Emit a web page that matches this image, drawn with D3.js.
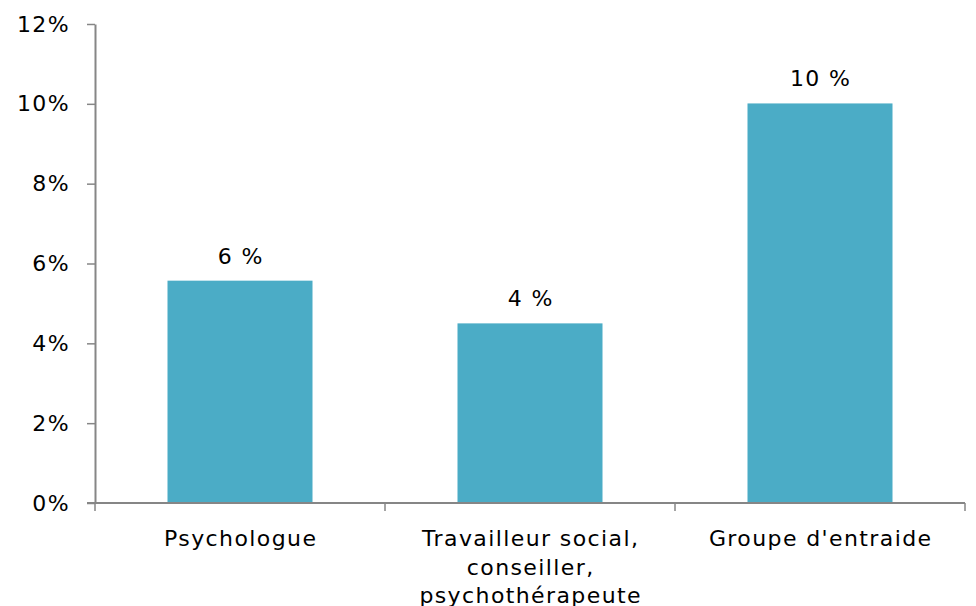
<!DOCTYPE html>
<html>
<head>
<meta charset="utf-8">
<script src="https://cdn.jsdelivr.net/npm/d3@7"></script>
<style>
  html, body { margin: 0; padding: 0; background: #fff; }
  svg { display: block; }
  text { font-family: "DejaVu Sans", Verdana, sans-serif; fill: #000; }
</style>
</head>
<body>
<svg id="chart" width="976" height="606"></svg>
<script>
const categories = ["Psychologue", "Travailleur social, conseiller, psychothérapeute", "Groupe d'entraide"];
const categoryLines = [["Psychologue"], ["Travailleur social,", "conseiller,", "psychothérapeute"], ["Groupe d'entraide"]];
const values = [5.57, 4.5, 10.01];
const valueLabels = ["6 %", "4 %", "10 %"];
const yTicks = [0, 2, 4, 6, 8, 10, 12];

(function () {
const svg = d3.select("#chart");
const mLeft = 95, mRight = 965, mTop = 24, mBottom = 503;

const x = d3.scaleBand().domain(categories).range([mLeft, mRight]).paddingInner(0.5).paddingOuter(0.25);
const y = d3.scaleLinear().domain([0, 12]).range([mBottom, mTop]);

const axisColor = "#868686";
const fs = 22;
const ls = 1.4;

// Y axis
const yAxis = svg.append("g").attr("transform", `translate(${mLeft},0)`)
  .call(d3.axisLeft(y).tickValues(yTicks).tickFormat(d => d + "%").tickSizeInner(8).tickSizeOuter(0).tickPadding(17));
yAxis.select(".domain").attr("stroke", axisColor).attr("stroke-width", 2);
yAxis.selectAll(".tick line").attr("stroke", axisColor).attr("stroke-width", 1.5);
yAxis.selectAll(".tick text").attr("font-size", fs).attr("letter-spacing", ls)
  .attr("font-family", '"DejaVu Sans", Verdana, sans-serif').attr("fill", "#000");

// Bars
svg.append("g").selectAll("rect").data(categories).join("rect")
  .attr("x", d => x(d))
  .attr("width", x.bandwidth())
  .attr("y", (d, i) => y(values[i]))
  .attr("height", (d, i) => y(0) - y(values[i]))
  .attr("fill", "#4BACC6");

// X axis
const xb = svg.append("g").attr("transform", `translate(0,${mBottom})`);
xb.append("line").attr("x1", mLeft - 8).attr("x2", mRight).attr("y1", 0).attr("y2", 0)
  .attr("stroke", axisColor).attr("stroke-width", 2);
const step = x.step();
const boundaries = [0, 1, 2, 3].map(i => mLeft + i * step);
xb.selectAll("line.tk").data(boundaries).join("line").attr("class", "tk")
  .attr("x1", d => d).attr("x2", d => d).attr("y1", 0).attr("y2", 8)
  .attr("stroke", axisColor).attr("stroke-width", 1.5);

// Category labels
svg.append("g").selectAll("text").data(categories).join("text")
  .attr("text-anchor", "middle")
  .attr("font-size", fs)
  .attr("letter-spacing", ls)
  .attr("x", d => x(d) + x.bandwidth() / 2 + ls / 2)
  .attr("y", 546)
  .each(function(d, i) {
    d3.select(this).selectAll("tspan").data(categoryLines[i]).join("tspan")
      .attr("x", x(d) + x.bandwidth() / 2 + ls / 2)
      .attr("dy", (l, j) => j === 0 ? 0 : 28.5)
      .text(l => l);
  });

// Value labels
svg.append("g").selectAll("text").data(categories).join("text")
  .attr("text-anchor", "middle")
  .attr("font-size", fs)
  .attr("letter-spacing", ls)
  .attr("x", d => x(d) + x.bandwidth() / 2 + ls / 2)
  .attr("y", (d, i) => y(values[i]) - 17)
  .text((d, i) => valueLabels[i]);
})();
</script>
</body>
</html>
